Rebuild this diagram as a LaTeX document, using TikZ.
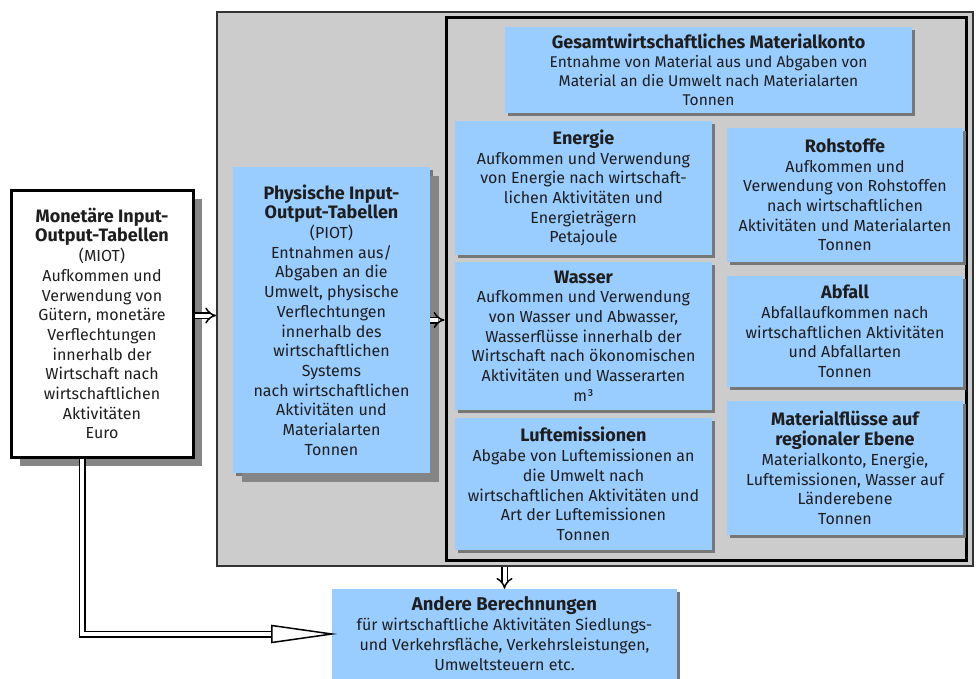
\documentclass[tikz,border=0pt]{standalone}
\usepackage{fontspec}
\setmainfont{Fira Sans}
\usetikzlibrary{arrows.meta,shadows,calc}
\definecolor{boxblue}{HTML}{99CCFF}
\definecolor{panelgray}{HTML}{CCCCCC}
\definecolor{shgray}{HTML}{777777}
\definecolor{txt}{HTML}{1E1E1E}
\newcommand{\ttl}[1]{{\bfseries\fontsize{18}{21}\selectfont #1}}
\begin{document}
\begin{tikzpicture}[x=1pt,y=-1pt,
  bluebox/.style={rectangle, fill=boxblue, draw=none, inner sep=0pt, align=center, text=txt,
     font=\fontsize{16}{19.7}\selectfont,
     drop shadow={shadow xshift=3pt, shadow yshift=-3pt, fill=shgray, opacity=1}},
  bigshadow/.style={drop shadow={shadow xshift=9pt, shadow yshift=-9pt, fill=shgray!90!white, opacity=1}},
  dbl/.style={line width=1.5pt, double=white, double distance=4pt, -{Implies}},
  dblplain/.style={line width=1.5pt, double=white, double distance=4pt},
  headtri/.style={line width=1.5pt, fill=white, draw=black, line join=miter},
]
\useasboundingbox (0,0) rectangle (976,679);
% outer gray panel
\node[rectangle, fill=panelgray, draw=black!80, line width=1.8pt, minimum width=756pt, minimum height=554pt, inner sep=0pt] (outer) at (595,289) {};
% inner black frame
\node[rectangle, draw=black, line width=3pt, minimum width=520pt, minimum height=542pt, inner sep=0pt] (inner) at (706,289) {};

\node[bluebox, minimum width=407pt, minimum height=86pt, font=\fontsize{15.5}{19}\selectfont] (gesamt) at (708.5,70)
 {\ttl{Gesamtwirtschaftliches Materialkonto}\\Entnahme von Material aus und Abgaben von\\Material an die Umwelt nach Materialarten\\Tonnen};

\node[bluebox, minimum width=257pt, minimum height=134pt] (energie) at (583.5,188)
 {\ttl{Energie}\\Aufkommen und Verwendung\\von Energie nach wirtschaft-\\lichen Aktivitäten und\\Energieträgern\\Petajoule};
\node[bluebox, minimum width=257pt, minimum height=148pt] (wasser) at (583.5,336)
 {\ttl{Wasser}\\Aufkommen und Verwendung\\von Wasser und Abwasser,\\Wasserflüsse innerhalb der\\Wirtschaft nach ökonomischen\\Aktivitäten und Wasserarten\\m³};
\node[bluebox, minimum width=257pt, minimum height=132pt] (luft) at (583.5,484)
 {\ttl{Luftemissionen}\\Abgabe von Luftemissionen an\\die Umwelt nach\\wirtschaftlichen Aktivitäten und\\Art der Luftemissionen\\Tonnen};

\node[bluebox, minimum width=236pt, minimum height=134pt] (rohstoffe) at (845,195)
 {\ttl{Rohstoffe}\\Aufkommen und\\Verwendung von Rohstoffen\\nach wirtschaftlichen\\Aktivitäten und Materialarten\\Tonnen};
\node[bluebox, minimum width=236pt, minimum height=111pt] (abfall) at (845,331.5)
 {\ttl{Abfall}\\Abfallaufkommen nach\\wirtschaftlichen Aktivitäten\\und Abfallarten\\Tonnen};
\node[bluebox, minimum width=236pt, minimum height=134pt] (material) at (845,468)
 {\ttl{Materialflüsse auf}\\\ttl{regionaler Ebene}\\Materialkonto, Energie,\\Luftemissionen, Wasser auf\\Länderebene\\Tonnen};

\node[bluebox, bigshadow, minimum width=197pt, minimum height=306pt] (piot) at (331.5,320)
 {\ttl{Physische Input-}\\\ttl{Output-Tabellen}\\(PIOT)\\Entnahmen aus/\\Abgaben an die\\Umwelt, physische\\Verflechtungen\\innerhalb des\\wirtschaftlichen\\Systems\\nach wirtschaftlichen\\Aktivitäten und\\Materialarten\\Tonnen};

\node[rectangle, fill=white, draw=black, line width=3pt, inner sep=0pt, align=center, text=txt,
  font=\fontsize{16}{19.7}\selectfont, bigshadow, minimum width=182pt, minimum height=267pt] (miot) at (102,323.5)
 {\ttl{Monetäre Input-}\\\ttl{Output-Tabellen}\\(MIOT)\\Aufkommen und\\Verwendung von\\Gütern, monetäre\\Verflechtungen\\innerhalb der\\Wirtschaft nach\\wirtschaftlichen\\Aktivitäten\\Euro};

\node[bluebox, minimum width=345pt, minimum height=90pt, font=\fontsize{16}{20}\selectfont] (andere) at (504.5,634)
 {{\bfseries\fontsize{18.5}{20}\selectfont Andere Berechnungen}\\für wirtschaftliche Aktivitäten Siedlungs-\\und Verkehrsfläche, Verkehrsleistungen,\\Umweltsteuern etc.};

% connectors
\coordinate (m1) at ([yshift=8pt]miot.east);
\draw[dbl] (m1) -- (m1 -| outer.west);
\draw[dbl] (piot.east) -- (piot.east -| inner.west);
\coordinate (m2) at ([xshift=-20pt]miot.south);
\coordinate (hb) at ([xshift=-60pt]andere.west);
\draw[dblplain] (m2) |- (hb);
\draw[headtri] ($(hb)+(0,-8.5)$) -- (andere.west) -- ($(hb)+(0,8.5)$) -- cycle;
\draw[dbl] (andere.north |- outer.south) -- (andere.north);
\end{tikzpicture}
\end{document}
